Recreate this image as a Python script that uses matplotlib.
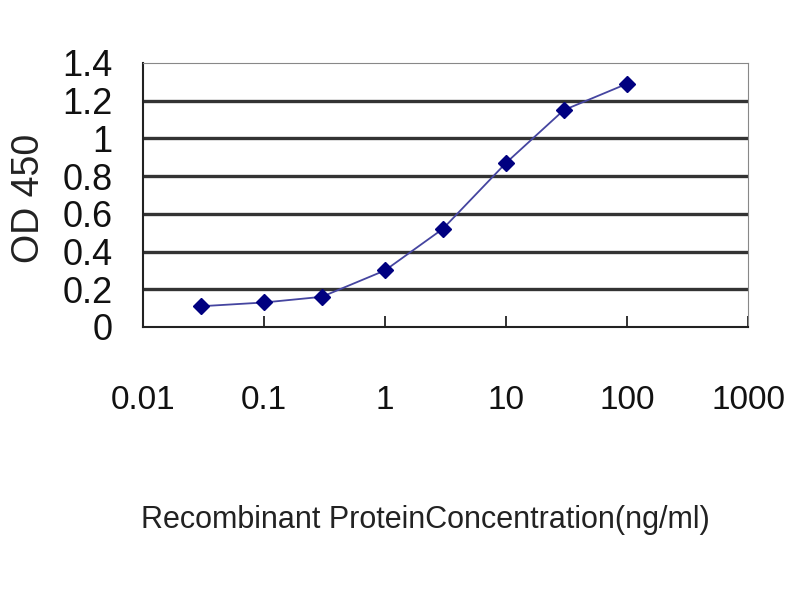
import matplotlib
matplotlib.use("Agg")
import matplotlib.pyplot as plt

# concentration (ng/ml) and OD450
conc = [0.03, 0.1, 0.3, 1, 3, 10, 30, 100]
od = [0.11, 0.13, 0.16, 0.30, 0.52, 0.87, 1.15, 1.29]

x_ticks = [0.01, 0.1, 1, 10, 100, 1000]
x_labels = ["0.01", "0.1", "1", "10", "100", "1000"]
y_ticks = [0, 0.2, 0.4, 0.6, 0.8, 1.0, 1.2, 1.4]
y_labels = ["0", "0.2", "0.4", "0.6", "0.8", "1", "1.2", "1.4"]

plt.rcParams['font.family'] = ['Liberation Sans', 'DejaVu Sans']

fig = plt.figure(figsize=(8, 6), dpi=100)
ax = fig.add_axes([143/800, 1 - 327/600, (748 - 143)/800, (327 - 63)/600])

ax.set_xscale("log")
ax.set_xlim(0.01, 1000)
ax.set_ylim(0, 1.4)

for y in y_ticks[1:-1]:
    ax.axhline(y, color="#333333", lw=2.4, zorder=1)

ax.plot(conc, od, color="#4545a0", lw=1.3, marker="D", ms=8,
        mfc="#000080", mec="#000080", zorder=3)

ax.set_xticks(x_ticks)
ax.set_xticklabels(x_labels)
ax.xaxis.set_minor_locator(matplotlib.ticker.NullLocator())
ax.set_yticks(y_ticks)
ax.set_yticklabels(y_labels)

ax.tick_params(axis="x", direction="in", length=8, width=1.2, pad=42,
               labelsize=24, colors="#111111")
ax.tick_params(axis="y", length=0, pad=22, labelsize=26, colors="#111111")

ax.spines["bottom"].set_color("#222222")
ax.spines["bottom"].set_linewidth(1.5)
ax.spines["left"].set_color("#222222")
ax.spines["left"].set_linewidth(1.5)
ax.spines["top"].set_color("#888888")
ax.spines["right"].set_color("#888888")

fig.text(425/800, 1 - 520/600, "Recombinant ProteinConcentration(ng/ml)",
         ha="center", va="center", fontsize=22, color="#222222")
fig.text(29/800, 1 - 198/600, "OD 450", rotation=90,
         ha="center", va="center", fontsize=27, color="#222222")

fig.savefig("out.png", dpi=100)
